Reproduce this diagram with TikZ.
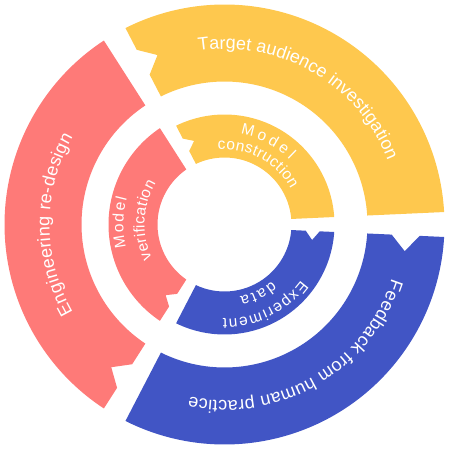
\documentclass[tikz,border=0pt]{standalone}
\usepackage{fontspec}
\setmainfont{Liberation Sans}
\usetikzlibrary{calc,decorations.text}

\definecolor{segyellow}{HTML}{FEC84E}
\definecolor{segred}{HTML}{FE7A78}
\definecolor{segblue}{HTML}{4155C5}

% gap between neighbouring segments: half width = \gaph + r*sin(\gapd)
\def\gaph{2.5}
\def\gapd{2.6}

% #1 colour, #2 inner radius, #3 outer radius, #4 tail angle, #5 head angle,
% #6 notch width, #7 notch depth  (segment runs clockwise from tail to head)
\newcommand{\ringseg}[7]{%
  \pgfmathsetmacro\sgRm{(#2+#3)/2}%
  \pgfmathsetmacro\sgRa{\sgRm-#6/2}%
  \pgfmathsetmacro\sgRb{\sgRm+#6/2}%
  \pgfmathsetmacro\sgTo{#4-\gapd-asin(\gaph/#3)}%
  \pgfmathsetmacro\sgHo{#5+\gapd+asin(\gaph/#3)}%
  \pgfmathsetmacro\sgHi{#5+\gapd+asin(\gaph/#2)}%
  \pgfmathsetmacro\sgTi{#4-\gapd-asin(\gaph/#2)}%
  \pgfmathsetmacro\sgTa{#4-\gapd-asin(\gaph/\sgRa)}%
  \pgfmathsetmacro\sgTm{#4-\gapd-asin(\gaph/\sgRm)}%
  \pgfmathsetmacro\sgTb{#4-\gapd-asin(\gaph/\sgRb)}%
  \pgfmathsetmacro\sgTn{\sgTm-90}%
  \fill[#1] (\sgTo:#3pt) arc[start angle=\sgTo, end angle=\sgHo, radius=#3pt]
    -- (\sgHi:#2pt) arc[start angle=\sgHi, end angle=\sgTi, radius=#2pt]
    -- (\sgTa:\sgRa pt) -- ($(\sgTm:\sgRm pt)+(\sgTn:#7pt)$)
    -- (\sgTb:\sgRb pt) -- cycle;
}

% #1 font size, #2 radius of baseline, #3 start angle, #4 end angle, #5 text
\newcommand{\arctext}[5]{%
  \path[decorate, decoration={text along path, text color=white,
      text align={fit to path},
      text={|\fontsize{#1}{#1}\selectfont|#5}}]
    (#3:#2pt) arc[start angle=#3, end angle=#4, radius=#2pt];
}

\begin{document}
\begin{tikzpicture}
\useasboundingbox (-224.5pt,-226.5pt) rectangle (225.5pt,224.5pt);

% outer ring
\ringseg{segyellow}{143}{220}{120}{0}{28}{16}
\ringseg{segblue}{143}{220}{0}{-120}{28}{16}
\ringseg{segred}{143}{220}{240}{120}{28}{16}

% inner ring
\ringseg{segyellow}{67}{110}{120}{0}{14}{9}
\ringseg{segblue}{67}{110}{0}{-120}{14}{9}
\ringseg{segred}{67}{116}{240}{120}{15}{9}

% outer labels
\arctext{18}{175.5}{98.5}{21.5}{Target audience investigation}
\arctext{18}{176}{-18}{-101.5}{Feedback from human practice}
\arctext{18}{175}{210}{150}{Engineering re-design}

% inner labels
\arctext{15.5}{92}{80}{45}{Model}
\arctext{15.5}{75}{95}{28}{construction}
\arctext{15.5}{101}{193}{165}{Model}
\arctext{15.5}{80}{205}{149}{verification}
\arctext{15.5}{94.5}{-36}{-91}{Experiment}
\arctext{15.5}{74}{-50}{-78}{data}
\end{tikzpicture}
\end{document}
